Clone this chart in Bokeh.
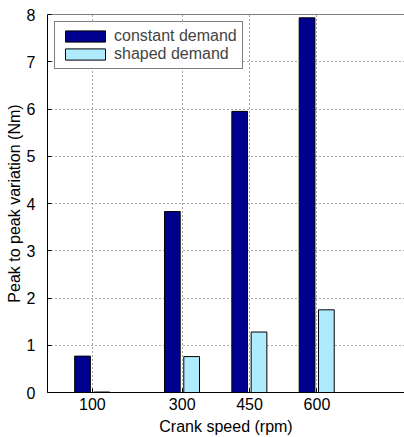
from bokeh.plotting import figure
from bokeh.models import ColumnDataSource, FixedTicker, Range1d, Legend, LegendItem, Span
from bokeh.transform import dodge
from bokeh.embed import file_html
from bokeh.resources import INLINE

speeds = [100, 300, 450, 600]
constant_demand = [0.77, 3.83, 5.95, 7.93]
shaped_demand = [0.01, 0.76, 1.28, 1.75]
y_ticks = [0, 1, 2, 3, 4, 5, 6, 7, 8]

src = ColumnDataSource(dict(x=speeds, c=constant_demand, s=shaped_demand))

FONT = "Liberation Sans"
p = figure(width=404, height=437, output_backend="svg", toolbar_location=None,
           x_range=Range1d(0, 795), y_range=Range1d(0, 8),
           min_border_left=47, min_border_right=0, min_border_top=14, min_border_bottom=0)

r1 = p.vbar(x=dodge("x", -22, range=p.x_range), top="c", width=35, source=src,
            fill_color="#00008F", line_color="black", line_width=1)
r2 = p.vbar(x=dodge("x", 21, range=p.x_range), top="s", width=35, source=src,
            fill_color="#AEEBFD", line_color="black", line_width=1)

p.outline_line_color = None
p.add_layout(Span(location=p.y_range.end, dimension="width", line_color="black", line_width=1))

p.xaxis.ticker = FixedTicker(ticks=speeds)
p.yaxis.ticker = FixedTicker(ticks=y_ticks)
for ax in (p.xaxis[0], p.yaxis[0]):
    ax.major_tick_in = 4
    ax.major_tick_out = 0
    ax.minor_tick_line_color = None
    ax.axis_line_color = "black"
    ax.major_label_text_font = FONT
    ax.major_label_text_font_size = "16px"
    ax.axis_label_text_font = FONT
    ax.axis_label_text_font_size = "16px"
    ax.axis_label_text_font_style = "normal"
    ax.axis_label_text_color = "black"
    ax.major_label_text_color = "black"
p.xaxis.axis_label = "Crank speed (rpm)"
p.yaxis.axis_label = "Peak to peak variation (Nm)"
p.xaxis.major_label_standoff = 5
p.xaxis.axis_label_standoff = 5
p.yaxis.major_label_standoff = 12
p.yaxis.axis_label_standoff = 1

for g in (p.xgrid[0], p.ygrid[0]):
    g.grid_line_color = "#555555"
    g.grid_line_dash = "1 3"
    g.grid_line_width = 1
p.xgrid.ticker = FixedTicker(ticks=speeds)
p.ygrid.ticker = FixedTicker(ticks=y_ticks)

legend = Legend(items=[LegendItem(label="constant demand", renderers=[r1]),
                       LegendItem(label="shaped demand", renderers=[r2])],
                location="top_left", orientation="vertical")
legend.label_text_font = FONT
legend.label_text_font_size = "16px"
legend.glyph_width = 50
legend.glyph_height = 14
legend.label_height = 18
legend.spacing = 0
legend.padding = 5
legend.margin = 7
legend.border_line_color = "black"
legend.border_line_width = 1
legend.label_standoff = 4
p.add_layout(legend)

open("out.html", "w").write(file_html(p, INLINE))
